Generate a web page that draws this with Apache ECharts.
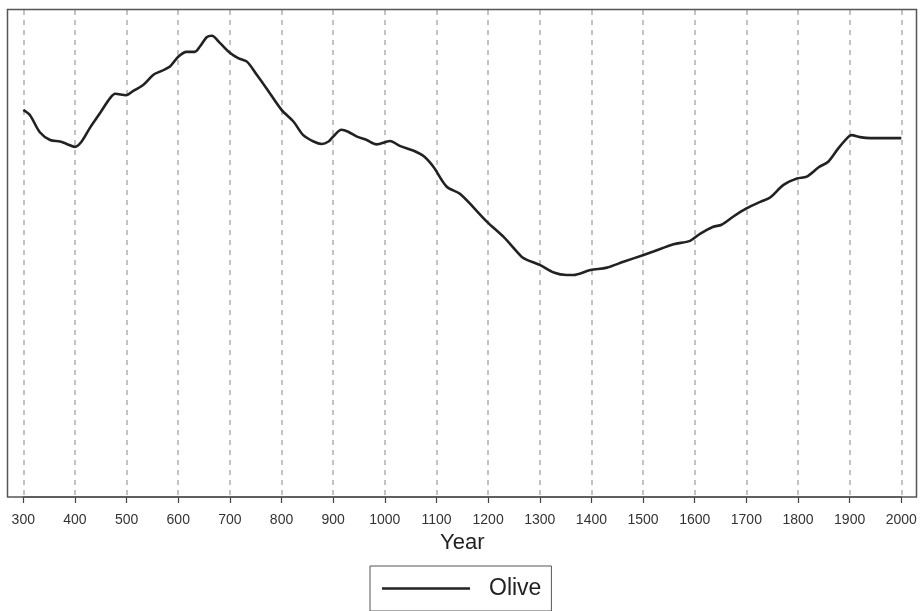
<!DOCTYPE html>
<html>
<head>
<meta charset="utf-8">
<script src="https://cdn.jsdelivr.net/npm/echarts@6/dist/echarts.min.js"></script>
<style>html,body{margin:0;padding:0;background:#fff}#c{width:922px;height:611px}</style>
</head>
<body>
<div id="c"></div>
<script>
const years = [300,313,332,352,371,384,400,413,429,449,468,478,499,513,532,552,568,584,600,616,632,642,655,665,681,700,716,733,752,771,800,823,842,862,878,891,900,916,929,946,965,984,1010,1029,1056,1075,1094,1120,1146,1198,1230,1265,1275,1301,1327,1352,1365,1398,1430,1462,1501,1520,1559,1591,1611,1636,1652,1675,1701,1727,1746,1772,1798,1817,1840,1859,1878,1898,1904,1920,1940,2000];
const olive = [79.5,78.4,74.9,73.3,73.0,72.5,71.9,73.0,75.8,78.9,81.9,82.8,82.5,83.4,84.6,86.7,87.5,88.4,90.4,91.4,91.4,92.5,94.4,94.7,93.2,91.2,90.1,89.4,86.7,83.9,79.5,77.1,74.3,73.0,72.5,73.0,74.0,75.4,75.0,74.0,73.3,72.4,73.1,72.1,71.1,70.0,67.8,63.7,62.2,56.5,53.4,49.3,48.7,47.6,46.1,45.6,45.6,46.6,47.1,48.3,49.7,50.4,51.9,52.6,54.1,55.5,55.9,57.6,59.3,60.6,61.5,64.1,65.4,65.8,67.7,68.9,71.6,74.0,74.3,73.9,73.7,73.7];
const xMin = 300, xMax = 2000, xStep = 100;
const seriesName = 'Olive';
const xTitle = 'Year';

const chart = echarts.init(document.getElementById('c'), null, {renderer: 'canvas'});
chart.setOption({
  animation: false,
  backgroundColor: '#fff',
  graphic: [{
    type: 'rect', z: 100, silent: true,
    shape: {x: 7.5, y: 9.5, width: 909, height: 487.5},
    style: {fill: 'none', stroke: '#555', lineWidth: 1.5}
  }],
  grid: {left: 23.3, right: 20.7, top: 10, bottom: 114, containLabel: false},
  legend: {
    left: 370, top: 566,
    data: [{name: seriesName, icon: 'rect'}],
    itemWidth: 88, itemHeight: 2.5,
    borderColor: '#555', borderWidth: 1,
    padding: [11, 10, 11, 12],
    itemStyle: {color: '#222'},
    textStyle: {fontFamily: 'Liberation Sans, Arial, sans-serif', fontSize: 23, color: '#222', padding: [0, 0, 0, 14]}
  },
  xAxis: {
    type: 'value', min: xMin, max: xMax, interval: xStep,
    name: xTitle, nameLocation: 'middle', nameGap: 29,
    nameTextStyle: {fontFamily: 'Liberation Sans, Arial, sans-serif', fontSize: 22, color: '#222'},
    axisLine: {show: true, onZero: false, lineStyle: {color: '#555', width: 1.5}},
    axisTick: {show: true, length: 6, lineStyle: {color: '#444', width: 1.2}},
    axisLabel: {fontFamily: 'Liberation Sans, Arial, sans-serif', fontSize: 14, color: '#333', margin: 16,
      formatter: v => String(v)},
    splitLine: {show: true, lineStyle: {color: '#b0b0b0', type: [5, 5], width: 1.5}}
  },
  yAxis: {
    type: 'value', min: 0, max: 100,
    axisLine: {show: false}, axisTick: {show: false}, axisLabel: {show: false}, splitLine: {show: false}
  },
  series: [{
    name: seriesName, type: 'line',
    data: years.map((y, i) => [y, olive[i]]),
    showSymbol: false, symbol: 'none', smooth: 0.3,
    lineStyle: {color: '#222', width: 2.6},
    itemStyle: {color: '#222'}
  }]
});
</script>
</body>
</html>
